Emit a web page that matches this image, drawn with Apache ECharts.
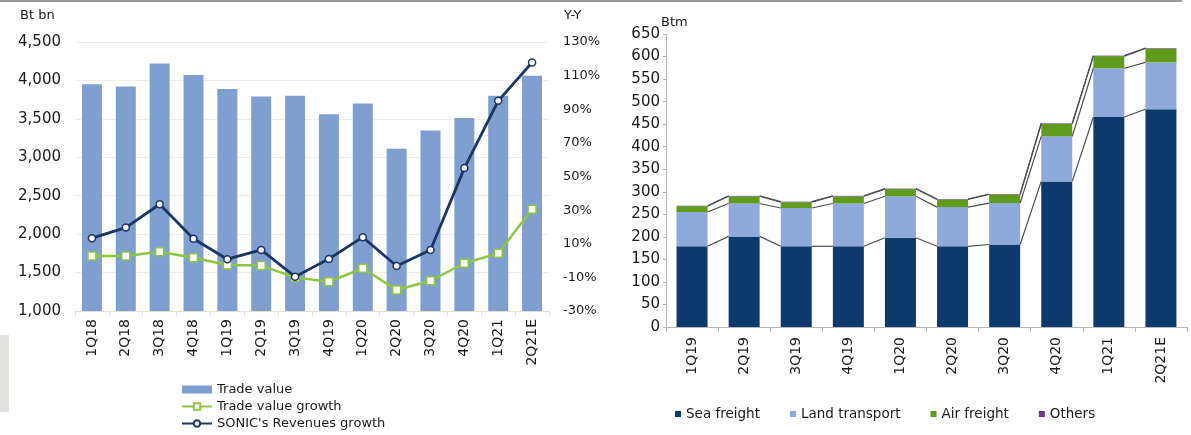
<!DOCTYPE html>
<html>
<head>
<meta charset="utf-8">
<script src="https://cdn.jsdelivr.net/npm/echarts@6/dist/echarts.min.js"></script>
<style>
html,body{margin:0;padding:0;background:#fff;}
#chart{width:1191px;height:435px;}
</style>
</head>
<body>
<div id="chart"></div>
<script>
// Left chart data
const leftCats = ['1Q18','2Q18','3Q18','4Q18','1Q19','2Q19','3Q19','4Q19','1Q20','2Q20','3Q20','4Q20','1Q21','2Q21E'];
const tradeValue = [3950, 3920, 4220, 4070, 3890, 3790, 3800, 3560, 3700, 3110, 3350, 3510, 3800, 4060];
const tradeGrowth = [2.7, 2.7, 5.3, 1.7, -2.6, -3.0, -10.0, -12.6, -4.6, -17.5, -12.0, -1.6, 4.3, 30.5];
const sonicGrowth = [13.3, 19.6, 33.5, 13.0, 0.8, 6.3, -9.6, 1.0, 13.9, -3.2, 6.3, 55.0, 95.0, 117.8];
const leftTicks = {min: 1000, max: 4500, interval: 500};
const rightTicks = {min: -30, max: 130, interval: 20};

// Right chart data
const rightCats = ['1Q19','2Q19','3Q19','4Q19','1Q20','2Q20','3Q20','4Q20','1Q21','2Q21E'];
const seaFreight = [179, 201, 179, 179, 198, 179, 183, 323, 466, 483];
const landTransport = [76, 73, 85, 95, 92, 87, 92, 100, 108, 104];
const airFreight = [13, 16, 13, 16, 16, 17, 19, 28, 27, 31];
const others = [1, 1, 1, 1, 1, 1, 1, 1, 1, 1];
const btmTicks = {min: 0, max: 650, interval: 50};

const FONT = 'DejaVu Sans';
const TXT = '#1a1a1a';
const chart = echarts.init(document.getElementById('chart'));

const stacks = [seaFreight, landTransport, airFreight, others];
function cumAt(i, level) {
  let s = 0;
  for (let k = 0; k <= level; k++) s += stacks[k][i];
  return s;
}

const option = {
  animation: false,
  backgroundColor: '#fff',
  textStyle: {fontFamily: FONT},
  graphic: [
    {type: 'line', shape: {x1: 0, y1: 1, x2: 1182, y2: 1}, style: {stroke: '#9a9a9a', lineWidth: 2}},
    {type: 'rect', shape: {x: 0, y: 335, width: 9, height: 77}, style: {fill: '#e2e2de'}},
    {type: 'text', left: 20, top: 9, style: {text: 'Bt bn', font: '13px "DejaVu Sans"', fill: TXT}},
    {type: 'text', left: 564, top: 9, style: {text: 'Y-Y', font: '13px "DejaVu Sans"', fill: TXT}},
    {type: 'text', left: 661, top: 16, style: {text: 'Btm', font: '13px "DejaVu Sans"', fill: TXT}}
  ],
  grid: [
    {left: 75, right: 642, top: 42, bottom: 124},
    {left: 666, right: 4, top: 34, bottom: 108}
  ],
  legend: [
    {
      orient: 'vertical', left: 176, top: 378, itemGap: 4,
      itemWidth: 30, itemHeight: 8,
      textStyle: {fontFamily: FONT, fontSize: 13, color: TXT},
      data: [
        {name: 'Trade value', icon: 'rect'},
        {name: 'Trade value growth'},
        {name: "SONIC's Revenues growth"}
      ]
    },
    {
      orient: 'horizontal', left: 670, top: 402, itemGap: 30,
      itemWidth: 6, itemHeight: 6, icon: 'rect',
      textStyle: {fontFamily: FONT, fontSize: 13.5, color: TXT},
      data: ['Sea freight', 'Land transport', 'Air freight', 'Others']
    }
  ],
  xAxis: [
    {
      type: 'category', gridIndex: 0, data: leftCats,
      axisLine: {onZero: false, lineStyle: {color: '#e3e0d2'}},
      axisTick: {show: true, lineStyle: {color: '#e3e0d2'}},
      axisLabel: {rotate: 90, fontFamily: FONT, fontSize: 14, color: TXT, margin: 8, interval: 0}
    },
    {
      type: 'category', gridIndex: 1, data: rightCats,
      axisLine: {onZero: false, lineStyle: {color: '#b8b8b8'}},
      axisTick: {show: true, lineStyle: {color: '#b8b8b8'}},
      axisLabel: {rotate: 90, fontFamily: FONT, fontSize: 14, color: TXT, margin: 10, interval: 0}
    }
  ],
  yAxis: [
    {
      type: 'value', gridIndex: 0, min: leftTicks.min, max: leftTicks.max, interval: leftTicks.interval,
      axisLine: {show: false}, axisTick: {show: false},
      splitLine: {show: true, lineStyle: {color: '#efede4', width: 1}},
      axisLabel: {fontFamily: FONT, fontSize: 15, color: TXT, margin: 14,
        formatter: v => v.toLocaleString('en-US')}
    },
    {
      type: 'value', gridIndex: 0, position: 'right', min: rightTicks.min, max: rightTicks.max, interval: rightTicks.interval,
      axisLine: {show: false}, axisTick: {show: false}, splitLine: {show: false},
      axisLabel: {fontFamily: FONT, fontSize: 13, color: TXT, margin: 14, formatter: v => v + '%'}
    },
    {
      type: 'value', gridIndex: 1, min: btmTicks.min, max: btmTicks.max, interval: btmTicks.interval,
      axisLine: {show: true, lineStyle: {color: '#b8b8b8'}},
      axisTick: {show: true, length: 3, lineStyle: {color: '#b8b8b8'}},
      splitLine: {show: false},
      axisLabel: {fontFamily: FONT, fontSize: 15, color: TXT, margin: 6}
    }
  ],
  series: [
    {
      name: 'Trade value', type: 'bar', xAxisIndex: 0, yAxisIndex: 0,
      data: tradeValue, barWidth: 20,
      itemStyle: {color: '#7f9fd0'}
    },
    {
      name: 'Trade value growth', type: 'line', xAxisIndex: 0, yAxisIndex: 1,
      data: tradeGrowth, symbol: 'rect', symbolSize: 8,
      lineStyle: {color: '#8dc63f', width: 2.5},
      itemStyle: {color: '#ffffff', borderColor: '#8dc63f', borderWidth: 1.5},
      z: 5
    },
    {
      name: "SONIC's Revenues growth", type: 'line', xAxisIndex: 0, yAxisIndex: 1,
      data: sonicGrowth, symbol: 'circle', symbolSize: 7,
      lineStyle: {color: '#1b3565', width: 2.8},
      itemStyle: {color: '#ffffff', borderColor: '#1b3565', borderWidth: 1.5},
      z: 6
    },
    {
      name: 'Sea freight', type: 'bar', stack: 'b', xAxisIndex: 1, yAxisIndex: 2,
      data: seaFreight, barWidth: 31, itemStyle: {color: '#0d3a6e'}
    },
    {
      name: 'Land transport', type: 'bar', stack: 'b', xAxisIndex: 1, yAxisIndex: 2,
      data: landTransport, barWidth: 31, itemStyle: {color: '#8eaadc'}
    },
    {
      name: 'Air freight', type: 'bar', stack: 'b', xAxisIndex: 1, yAxisIndex: 2,
      data: airFreight, barWidth: 31, itemStyle: {color: '#5f9c1c'}
    },
    {
      name: 'Others', type: 'bar', stack: 'b', xAxisIndex: 1, yAxisIndex: 2,
      data: others, barWidth: 31, itemStyle: {color: '#7030a0'}
    },
    {
      type: 'custom', xAxisIndex: 1, yAxisIndex: 2, silent: true, z: 3,
      data: rightCats.slice(0, -1).map((c, i) => [i, 0]),
      renderItem: function (params, api) {
        const i = api.value(0);
        const half = 15.5;
        const children = [];
        for (let lvl = 0; lvl < 4; lvl++) {
          const p1 = api.coord([i, cumAt(i, lvl)]);
          const p2 = api.coord([i + 1, cumAt(i + 1, lvl)]);
          children.push({
            type: 'line',
            shape: {x1: p1[0] + half, y1: p1[1], x2: p2[0] - half, y2: p2[1]},
            style: {stroke: '#4a4f57', lineWidth: 1.2}
          });
        }
        return {type: 'group', children: children};
      }
    }
  ]
};
chart.setOption(option);
</script>
</body>
</html>
